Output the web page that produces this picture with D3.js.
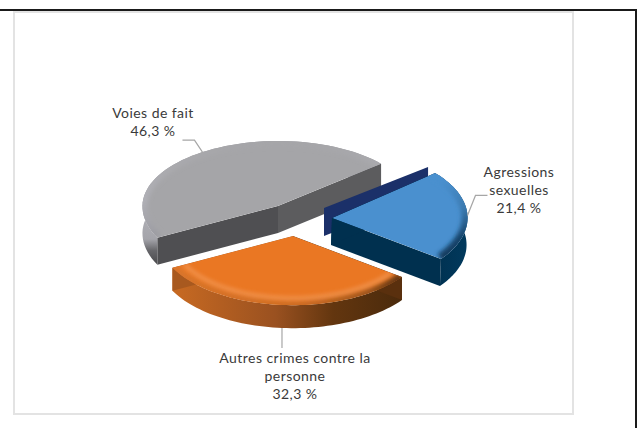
<!DOCTYPE html>
<html><head><meta charset="utf-8">
<script src="https://cdn.jsdelivr.net/npm/d3@7"></script>
<style>html,body{margin:0;padding:0;background:#fff}svg{display:block}text{font-family:Lato,"Open Sans",sans-serif;font-size:14px;letter-spacing:.45px;fill:#3a3a3a;text-anchor:middle}</style>
</head><body><svg id="c" width="639" height="428"></svg>
<script>
const categories = ["Agressions sexuelles", "Autres crimes contre la personne", "Voies de fait"];
const values = [21.4, 32.3, 46.3];
const valueLabels = ["21,4 %", "32,3 %", "46,3 %"];
const labelLines = [["Agressions", "sexuelles"], ["Autres crimes contre la", "personne"], ["Voies de fait"]];

const W = 639, H = 428;
const svg = d3.select("#c");
// projected axes of the tilted pie
const U = [109, 41], V = [-80.6, 55.7];
const rad = d => d * Math.PI / 180;
const pie = d3.pie().sort(null).value(d => d).startAngle(rad(-77)).endAngle(rad(283));
const arcs = pie(values);
const styles = [
  {apex:[332,218], depth:[-1,27], back:1, face:"#4a90cf", rim:"url(#rimB)", rimW:6, hi:null, walls:["#00304f","#00304f"], outer:"url(#outB)"},
  {apex:[293,236], depth:[0,23], back:1, face:"#ea7723", rim:"url(#rimO)", rimW:5, hi:"#f39a58", walls:["#5a300e","#a8591f"], outer:"url(#outO)"},
  {apex:[278,206], depth:[0,27], back:.94, face:"#a5a5a8", rim:"url(#rimG)", rimW:5, hi:null, walls:["#4f4f52","#5c5c5e"], outer:"url(#outG)"}
];
const pt = (s, t, r=1) => {
  const dy = r*(U[1]*Math.cos(t) + V[1]*Math.sin(t));
  return [s.apex[0] + r*(U[0]*Math.cos(t) + V[0]*Math.sin(t)), s.apex[1] + dy*(dy<0?s.back:1)];
};
const add = (p, d) => [p[0]+d[0], p[1]+d[1]];
const line = d3.line();
const arcPts = (s, a, r=1) => d3.range(0, 61).map(i => pt(s, a.startAngle + (a.endAngle-a.startAngle)*i/60, r));

const defs = svg.append("defs");
function grad(id, x1, x2, stops, y1=0, y2=0){
  const g = defs.append("linearGradient").attr("id", id).attr("gradientUnits","userSpaceOnUse")
    .attr("x1",x1).attr("x2",x2).attr("y1",y1).attr("y2",y2);
  stops.forEach(([o,c]) => g.append("stop").attr("offset",o).attr("stop-color",c));
}
grad("outO",172,402,[[0,"#c86a22"],[.45,"#9a5120"],[.7,"#63360f"],[1,"#4a2a0c"]]);
grad("rimO",172,402,[[0,"#d9752a"],[.55,"#cf6c22"],[.85,"#a0561c"],[1,"#5a3210"]]);
grad("outB",430,470,[[0,"#00304f"],[1,"#013a5e"]]);
grad("rimB",0,0,[[0,"#4a90cf"],[.35,"#3a78ad"],[.7,"#17456c"],[1,"#123a5c"]],180,262);
grad("outG",0,0,[[0,"#b4b4ba"],[.6,"#a4a4aa"],[.8,"#66666a"],[1,"#4f4f52"]],205,262);
grad("rimG",0,0,[[0,"#a5a5a8"],[.6,"#b0b0b6"],[1,"#9a9aa0"]],140,240);
const f = defs.append("filter").attr("id","blur").attr("x","-20%").attr("y","-20%").attr("width","140%").attr("height","140%");
f.append("feGaussianBlur").attr("stdDeviation",2);

// frame
svg.append("rect").attr("x",14).attr("y",12).attr("width",559).attr("height",402).attr("fill","#fff").attr("stroke","#e3e3e3").attr("stroke-width",2);
svg.append("path").attr("d",line([[0,10],[636,10],[636,H]])).attr("fill","none").attr("stroke","#1a1a1a").attr("stroke-width",2);

function wallBetween(s, a, b, fill){
  svg.append("path").attr("d", line([a, b, add(b,s.depth), add(a,s.depth)])+"Z").attr("fill",fill);
}
function drawSlice(i){
  const s = styles[i], a = arcs[i];
  const top = arcPts(s,a), bot = top.map(p=>add(p,s.depth)).reverse();
  svg.append("path").attr("d", line(top.concat(bot))+"Z").attr("fill",s.outer);
  const p0 = pt(s,a.startAngle), p1 = pt(s,a.endAngle);
  wallBetween(s, s.apex, p1, s.walls[1]);
  wallBetween(s, s.apex, p0, s.walls[0]);
  const facePath = line([s.apex].concat(top))+"Z";
  const clipId = "clip"+i;
  defs.append("clipPath").attr("id",clipId).append("path").attr("d",facePath);
  const g = svg.append("g").attr("clip-path",`url(#${clipId})`);
  g.append("path").attr("d",facePath).attr("fill",s.face);
  g.append("path").attr("d",line(top)).attr("fill","none").attr("stroke",s.rim).attr("stroke-width",s.rimW*2).attr("filter","url(#blur)");
  if(s.hi) g.append("path").attr("d",line(arcPts(s,a,.9))).attr("fill","none").attr("stroke",s.hi).attr("stroke-width",3).attr("filter","url(#blur)");
}
drawSlice(2);
// navy rear cut wall of the blue slice
(function(){
  const s = styles[0], a = arcs[0];
  const o = add(s.apex,[-8,-10]), e = add(pt(s,a.startAngle),[-7,-6]);
  const d = [0,28];
  svg.append("path").attr("d",line([o,e,add(e,d),add(o,d)])+"Z").attr("fill","#1b3069");
})();
drawSlice(0);
drawSlice(1);

// leaders & labels
const mid = i => pt(styles[i],(arcs[i].startAngle+arcs[i].endAngle)/2);
const leaderColor = "#a6a6a6";
const leaders = [
  [mid(0), add(mid(0),[8,-20]), add(mid(0),[20,-20])],
  [add(mid(1),styles[1].depth), add(add(mid(1),styles[1].depth),[0,20])],
  [mid(2), add(mid(2),[-8,-12]), add(mid(2),[-20,-12])]
];
leaders.forEach(l => svg.append("path").attr("d",line(l)).attr("fill","none").attr("stroke",leaderColor).attr("stroke-width",1.2));
const labelPos = [[519,177],[295,363],[153,118]];
const lh = 18.2;
categories.forEach((c,i)=>{
  const lines = labelLines[i].concat(valueLabels[i]);
  const t = svg.append("text").attr("aria-label",c);
  lines.forEach((l,j)=>t.append("tspan").attr("x",labelPos[i][0]).attr("y",labelPos[i][1]+j*lh).text(l));
});
</script></body></html>
